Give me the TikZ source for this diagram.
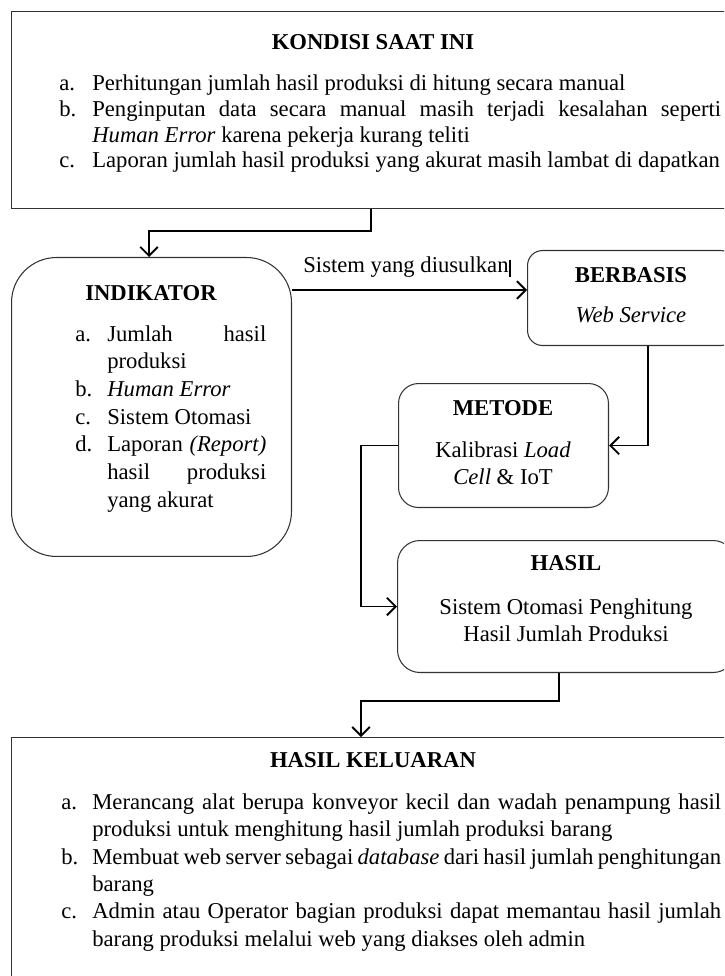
\documentclass[tikz,border=0pt]{standalone}
\usepackage{fontspec}
\setmainfont{Liberation Serif}
\usetikzlibrary{arrows.meta}
\hyphenpenalty=10000
\exhyphenpenalty=10000
\tolerance=10000
\hbadness=10000
\newcommand{\LISTITEM}[3]{\hangindent=#1\hangafter=1\noindent\makebox[#1][l]{#2}#3\par}
\tikzset{
BOX/.style ={draw=black!80, line width=0.6pt, rectangle, anchor=north west, inner sep=0pt},
RBOX/.style ={BOX, rounded corners=#1},
LINK/.style ={draw=black, line width=1.1pt, line join=miter, -{Straight Barb[length=5pt,width=10pt]}},
TITLE/.style ={font=\fontsize{12.9}{15}\selectfont\bfseries, anchor=base, inner sep=0pt},
TEXT/.style ={font=\fontsize{12.9}{15}\selectfont, anchor=base, inner sep=0pt},
LIST/.style ={TEXT, anchor=base west, align=justify, text width=#1},
}

\begin{document}
\begin{tikzpicture}[x=0.02cm, y=-0.02cm]
	\useasboundingbox (0,0) rectangle (724,976);
	\clip (0,0) rectangle (724,976);
	% boxes
	\node[BOX, minimum width=14.48cm, minimum height=3.94cm] (kondisi) at (11,11) {};
	\node[RBOX=0.9cm, minimum width=5.6cm, minimum height=5.98cm] (indikator) at (11,257) {};
	\node[RBOX=0.3cm, minimum width=4.16cm, minimum height=1.9cm] (berbasis) at (527,250) {};
	\node[RBOX=0.4cm, minimum width=4.2cm, minimum height=2.48cm] (metode) at (398,383) {};
	\node[RBOX=0.45cm, minimum width=6.76cm, minimum height=2.64cm] (hasil) at (397,540) {};
	\node[BOX, minimum width=14.48cm, minimum height=5.2cm] (keluaran) at (11,737) {};
	% kondisi saat ini
	\node[TITLE] (kondisiTitle) at (373,50) {KONDISI SAAT INI};
	\node[LIST=13.24cm, font=\fontsize{12.9}{14.6}\selectfont] (kondisiList) at (59,91) {%
		\LISTITEM{0.66cm}{a.}{Perhitungan jumlah hasil produksi di hitung secara manual}%
		\LISTITEM{0.66cm}{b.}{Penginputan data secara manual masih terjadi kesalahan seperti\linebreak \textit{Human Error} karena pekerja kurang teliti}%
		\LISTITEM{0.66cm}{c.}{Laporan jumlah hasil produksi yang akurat masih lambat di dapatkan}};
	% indikator
	\node[TITLE] (indikatorTitle) at (151,300) {INDIKATOR};
	\node[LIST=3.82cm, font=\fontsize{12.9}{15.75}\selectfont] (indikatorList) at (75,341) {%
		\LISTITEM{0.64cm}{a.}{Jumlah hasil\linebreak produksi}%
		\LISTITEM{0.64cm}{b.}{\textit{Human Error}}%
		\LISTITEM{0.64cm}{c.}{Sistem Otomasi}%
		\LISTITEM{0.64cm}{d.}{Laporan \textit{(Report)}\linebreak hasil produksi\linebreak yang akurat}};
	\node[TEXT, anchor=base west] (usulan) at (303,273) {Sistem yang diusulkan\hspace{0.5pt}\rule[-2.5pt]{0.7pt}{10pt}};
	% berbasis, metode, hasil
	\node[TITLE] (berbasisTitle) at (631,282) {BERBASIS};
	\node[TEXT] (berbasisText) at (631,322) {\textit{Web Service}};
	\node[TITLE] (metodeTitle) at (503,415) {METODE};
	\node[TEXT, align=flush center, text width=4cm, font=\fontsize{12.9}{15.4}\selectfont] (metodeText) at (503,457) {Kalibrasi \textit{Load}\\\textit{Cell} \& IoT};
	\node[TITLE] (hasilTitle) at (566,570) {HASIL};
	\node[TEXT, align=flush center, text width=6.5cm, font=\fontsize{12.9}{15.4}\selectfont] (hasilText) at (566,614) {Sistem Otomasi Penghitung\\Hasil Jumlah Produksi};
	% hasil keluaran
	\node[TITLE] (keluaranTitle) at (373,767) {HASIL KELUARAN};
	\node[LIST=13.2cm, font=\fontsize{12.9}{15.65}\selectfont] (keluaranList) at (61,809) {%
		\LISTITEM{0.62cm}{a.}{Merancang alat berupa konveyor kecil dan wadah penampung hasil\linebreak produksi untuk menghitung hasil jumlah produksi barang}%
		\LISTITEM{0.62cm}{b.}{Membuat web server sebagai \textit{database} dari hasil jumlah penghitungan\linebreak barang}%
		\LISTITEM{0.62cm}{c.}{Admin atau Operator bagian produksi dapat memantau hasil jumlah\linebreak barang produksi melalui web yang diakses oleh admin}};
	% connectors
	\draw[LINK] (kondisi.south -| 371,0) -- (371,231) -| (indikator.north -| 149,0);
	\draw[LINK] (indikator.east |- 0,290) -- (berbasis.west |- 0,290);
	\draw[LINK] (berbasis.south -| 648,0) |- (metode.east);
	\draw[LINK] (metode.west) -- (metode.west -| 361,0) |- (hasil.west);
	\draw[LINK] (hasil.south -| 559,0) -- (559,701) -| (keluaran.north -| 361,0);
\end{tikzpicture}
\end{document}
